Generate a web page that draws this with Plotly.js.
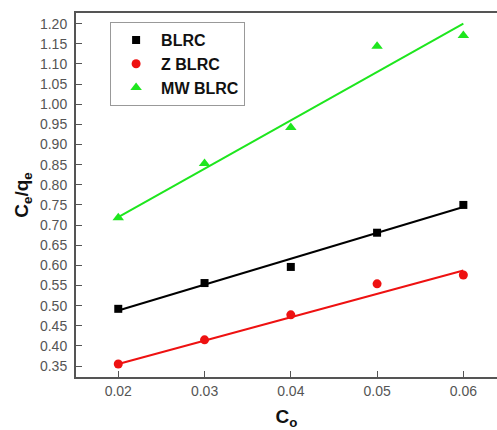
<!DOCTYPE html>
<html>
<head>
<meta charset="utf-8">
<script src="https://cdn.plot.ly/plotly-3.0.1.min.js"></script>
<style>html,body{margin:0;padding:0;background:#fff;}#chart{width:497px;height:430px;}</style>
</head>
<body>
<div id="chart"></div>
<script>
// Data
const co = [0.02, 0.03, 0.04, 0.05, 0.06];
const blrc = [0.492, 0.556, 0.596, 0.681, 0.750];
const zBlrc = [0.355, 0.415, 0.477, 0.554, 0.576];
const mwBlrc = [0.718, 0.853, 0.942, 1.144, 1.171];
// Fitted lines (end points)
const fitX = [0.02, 0.06];
const blrcFit = [0.488, 0.745];
const zBlrcFit = [0.355, 0.587];
const mwBlrcFit = [0.720, 1.200];
const seriesNames = ['BLRC', 'Z BLRC', 'MW BLRC'];

const cBlack = '#000000', cRed = '#ee1111', cGreen = '#1ee61e';

const traces = [
  {x: fitX, y: blrcFit, mode: 'lines', line: {color: cBlack, width: 2}, showlegend: false, hoverinfo: 'skip'},
  {x: fitX, y: zBlrcFit, mode: 'lines', line: {color: cRed, width: 2}, showlegend: false, hoverinfo: 'skip'},
  {x: fitX, y: mwBlrcFit, mode: 'lines', line: {color: cGreen, width: 2}, showlegend: false, hoverinfo: 'skip'},
  {x: co, y: blrc, name: seriesNames[0], mode: 'markers', marker: {symbol: 'square', size: 8, color: cBlack}},
  {x: co, y: zBlrc, name: seriesNames[1], mode: 'markers', marker: {symbol: 'circle', size: 9, color: cRed}},
  {x: co, y: mwBlrc, name: seriesNames[2], mode: 'markers', marker: {symbol: 'triangle-up', size: 10, color: cGreen}}
];

const layout = {
  width: 497, height: 430,
  margin: {l: 76, r: 0, t: 13, b: 53},
  paper_bgcolor: '#ffffff', plot_bgcolor: '#ffffff',
  font: {family: 'Liberation Sans, Arial, sans-serif', color: '#444'},
  showlegend: true,
  legend: {
    x: 0.081, y: 0.975, xanchor: 'left', yanchor: 'top',
    bgcolor: '#ffffff', bordercolor: '#999999', borderwidth: 1,
    font: {family: 'Liberation Sans, Arial, sans-serif', size: 16, color: '#111', weight: 'bold'},
    itemwidth: 40, tracegroupgap: 0
  },
  xaxis: {
    range: [0.0151, 0.0639], dtick: 0.01, tick0: 0.02, tickformat: '.2f',
    showgrid: false, zeroline: false,
    showline: true, linecolor: '#555', linewidth: 2, mirror: true,
    ticks: 'inside', ticklen: 6, tickcolor: '#555', tickwidth: 1,
    tickfont: {size: 14, color: '#555'},
    title: {text: 'C<sub>o</sub>', font: {size: 19, color: '#111', weight: 'bold'}, standoff: 14}
  },
  yaxis: {
    range: [0.3227, 1.2266], dtick: 0.05, tick0: 0.35, tickformat: '.2f',
    showgrid: false, zeroline: false,
    showline: true, linecolor: '#555', linewidth: 2, mirror: false,
    ticks: 'inside', ticklen: 6, tickcolor: '#555', tickwidth: 1,
    tickfont: {size: 14, color: '#555'}, ticklabelstandoff: 4,
    title: {text: 'C<sub>e</sub>/q<sub>e</sub>', font: {size: 19, color: '#111', weight: 'bold'}, standoff: 6}
  }
};

Plotly.newPlot('chart', traces, layout, {displayModeBar: false, staticPlot: true});
</script>
</body>
</html>
